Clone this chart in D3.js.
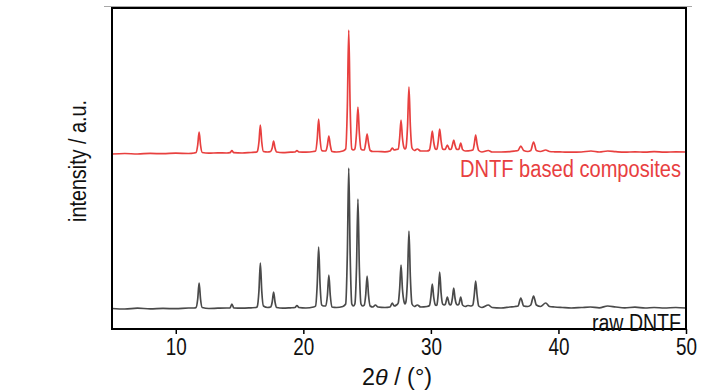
<!DOCTYPE html>
<html>
<head>
<meta charset="utf-8">
<script src="https://cdn.jsdelivr.net/npm/d3@7"></script>
<style>
  html, body { margin: 0; padding: 0; background: #fff; }
  svg { display: block; }
  text { font-family: 'Liberation Sans Narrow', 'Arial Narrow', 'Liberation Sans', Arial, sans-serif; }
</style>
</head>
<body>
<svg id="chart" width="728" height="390"></svg>
<script>
// ---- Data (2θ in degrees, intensity in a.u.) ----
const xTicks = [10, 20, 30, 40, 50];
const xDomain = [5, 50];
const yDomain = [0, 321];

const seriesNames = ["raw DNTF", "DNTF based composites"];

const rawDNTF = [
  [5,20.5],[6,20],[7,20.8],[8,20.2],[9,20.6],[10,20.3],[11,21],[11.45,21],
  [11.59,21.5],[11.72,30],[11.83,46],[11.94,30],[12.07,21.5],
  [12.6,20.5],[13.3,20.8],[14.0,21],
  [14.25,21],[14.4,25],[14.55,21],
  [15.2,20.8],[15.9,21.2],[16.3,21.5],
  [16.39,22.5],[16.52,38],[16.63,66],[16.74,38],[16.87,23],
  [17.2,21.5],
  [17.43,22],[17.56,27],[17.67,37],[17.78,27],[17.91,21.5],
  [18.4,20.8],[19.0,21.2],
  [19.35,21.5],[19.5,23.5],[19.65,21.5],
  [20.2,21],[20.8,22],
  [20.96,23],[21.09,45],[21.2,82],[21.31,45],[21.44,24],
  [21.6,23],
  [21.76,23],[21.89,34],[22.0,54],[22.11,34],[22.24,22],
  [22.6,21.5],[23.1,22.5],
  [23.32,25],[23.45,75],[23.56,161],[23.67,75],[23.8,25],
  [23.92,23],
  [24.04,25],[24.17,62],[24.28,130],[24.39,62],[24.52,25],
  [24.65,23],
  [24.78,24],[24.89,34],[25.0,53],[25.11,34],[25.24,23],
  [25.45,22],[25.65,24],[25.85,22],[26.4,21.5],
  [26.8,22],[26.97,26],[27.12,23],
  [27.3,24],
  [27.44,26],[27.55,40],[27.66,64],[27.77,40],[27.9,27],
  [27.97,25],
  [28.04,27],[28.17,52],[28.28,98],[28.39,52],[28.52,25],
  [28.7,22.5],[28.94,24],[29.2,22],[29.7,22.5],
  [29.89,23.5],[30.0,32],[30.11,45],[30.22,32],[30.35,24],
  [30.41,23.5],
  [30.47,24],[30.58,36],[30.69,57],[30.8,36],[30.92,25],
  [31.05,24],
  [31.14,25],[31.29,32],[31.44,25],
  [31.53,24],
  [31.6,25],[31.69,31],[31.79,41],[31.89,31],[32.0,25],
  [32.1,24],
  [32.2,25],[32.34,32],[32.48,24],
  [32.7,22.5],[32.9,23.5],[33.15,23],
  [33.29,24],[33.4,34],[33.51,48],[33.62,34],[33.75,23],
  [34.0,21.5],[34.5,24],[34.8,21.5],[35.5,21],[36.2,22],[36.6,22.5],
  [36.83,23],[37.05,31],[37.27,23],
  [37.6,22.5],
  [37.83,24],[38.05,33],[38.27,24],
  [38.6,22.5],[39.0,26],[39.3,22.5],[39.7,22],[40.3,21.5],[41,21],[41.8,21.5],
  [42.5,22],[43.2,21.2],[43.86,23],[44.5,22],[45.2,21.2],[46,21.8],[46.8,21],
  [47.5,21.5],[48.3,21],[49.2,21.5],[50,21]
];

const composites = [
  [5,175],[6,175.5],[7,175],[8,175.6],[9,175.3],[10,175.8],[11,175.5],[11.45,176],
  [11.59,176.5],[11.72,184],[11.83,197],[11.94,184],[12.07,176.5],
  [12.6,175.8],[13.3,176.2],[14.0,176],
  [14.25,176.3],[14.4,178.3],[14.55,176.3],
  [15.2,176],[15.9,176.5],[16.3,176.8],
  [16.39,177.5],[16.52,187],[16.63,204],[16.74,187],[16.87,177.5],
  [17.2,177],
  [17.43,177.5],[17.56,181],[17.67,188],[17.78,181],[17.91,177],
  [18.4,176.3],[19.0,176.8],
  [19.35,177],[19.5,178.5],[19.65,177],
  [20.2,176.8],[20.8,177.5],
  [20.96,178],[21.09,190],[21.2,210],[21.31,190],[21.44,178.5],
  [21.6,178],
  [21.76,178],[21.89,184],[22.0,193],[22.11,184],[22.24,177.5],
  [22.6,177],[23.1,178],
  [23.32,180],[23.45,222],[23.56,299],[23.67,222],[23.8,180],
  [23.92,179],
  [24.04,180],[24.17,196],[24.28,222],[24.39,196],[24.52,180],
  [24.65,179],
  [24.78,179],[24.89,186],[25.0,195],[25.11,186],[25.24,178.5],
  [25.45,177.5],[25.85,177.5],[26.4,177.2],
  [26.8,178],[26.97,181],[27.12,179],
  [27.3,179.5],
  [27.44,180],[27.55,191],[27.66,209],[27.77,191],[27.9,181],
  [27.97,180],
  [28.04,181],[28.17,203],[28.28,242],[28.39,203],[28.52,181],
  [28.7,178.5],[28.94,180],[29.2,178],[29.7,178],
  [29.89,179],[30.0,187],[30.11,198],[30.22,187],[30.35,180],
  [30.41,179.5],
  [30.47,180],[30.58,188],[30.69,200],[30.8,188],[30.92,180],
  [31.05,179.5],
  [31.14,180],[31.29,184],[31.44,180],
  [31.53,179.5],
  [31.6,180],[31.69,184],[31.79,189],[31.89,184],[32.0,180],
  [32.1,179.5],
  [32.2,180],[32.34,186],[32.48,179.5],
  [32.7,178],[33.15,178.5],
  [33.29,179],[33.4,185],[33.51,194],[33.62,185],[33.75,178.5],
  [34.0,177],[34.5,178.5],[34.8,177],[35.5,177],[36.2,177.3],[36.6,178],
  [36.83,178.5],[37.05,183],[37.27,178.5],
  [37.6,177.5],
  [37.83,178.5],[38.05,187],[38.27,178.5],
  [38.6,177.5],[39.0,179],[39.3,177.5],[39.7,177.2],[40.3,177],[41,176.8],[41.8,177],
  [42.55,178],[43.2,177],[43.86,178],[44.5,177.3],[45.2,176.8],[46,177.2],[46.8,176.8],
  [47.5,177.3],[48.3,176.8],[49.2,177.2],[50,177]
];

// ---- Layout ----
const svg = d3.select("#chart");
const mLeft = 112, mRight = 686, mTop = 8, mBottom = 329;

const x = d3.scaleLinear().domain(xDomain).range([mLeft, mRight]);
const y = d3.scaleLinear().domain(yDomain).range([mBottom, mTop]);

const colors = { raw: "#4a4a4a", comp: "#e8403f" };

// faint top rule (line above the frame in the original)
svg.append("line")
  .attr("x1", 104).attr("x2", 692).attr("y1", 6.5).attr("y2", 6.5)
  .attr("stroke", "#a8a8a8").attr("stroke-width", 1);

const g = svg.append("g");

const line = d3.line()
  .x(d => x(d[0]))
  .y(d => y(d[1]))
  .curve(d3.curveMonotoneX);

g.append("path").datum(rawDNTF)
  .attr("d", line).attr("fill", "none")
  .attr("stroke", colors.raw).attr("stroke-width", 1.7)
  .attr("stroke-linejoin", "round");

g.append("path").datum(composites)
  .attr("d", line).attr("fill", "none")
  .attr("stroke", colors.comp).attr("stroke-width", 1.7)
  .attr("stroke-linejoin", "round");

// frame
svg.append("rect")
  .attr("x", mLeft).attr("y", mTop)
  .attr("width", mRight - mLeft).attr("height", mBottom - mTop)
  .attr("fill", "none").attr("stroke", "#000").attr("stroke-width", 2);

// x axis
const xAxis = d3.axisBottom(x).tickValues(xTicks).tickSize(5).tickPadding(5)
  .tickFormat(d3.format("d"));
const ax = svg.append("g").attr("transform", `translate(0,${mBottom})`).call(xAxis);
ax.select(".domain").remove();
ax.selectAll(".tick line").attr("stroke", "#000").attr("stroke-width", 1.5);
ax.selectAll(".tick text")
  .attr("fill", "#111").style("font-size", "23px")
  .attr("textLength", 21).attr("lengthAdjust", "spacingAndGlyphs");

// axis titles
const xt = svg.append("text")
  .attr("x", 397).attr("y", 385)
  .attr("text-anchor", "middle")
  .attr("fill", "#111").style("font-size", "23px")
  .attr("textLength", 70).attr("lengthAdjust", "spacingAndGlyphs");
xt.append("tspan").text("2");
xt.append("tspan").attr("font-style", "italic").text("θ");
xt.append("tspan").text(" / (°)");

svg.append("text")
  .attr("transform", "translate(86,161) rotate(-90)")
  .attr("text-anchor", "middle")
  .attr("fill", "#111").style("font-size", "23px")
  .attr("textLength", 122).attr("lengthAdjust", "spacingAndGlyphs")
  .text("intensity / a.u.");

// series labels
svg.append("text")
  .attr("x", 681).attr("y", 177)
  .attr("text-anchor", "end")
  .attr("fill", colors.comp).style("font-size", "23px")
  .attr("textLength", 221).attr("lengthAdjust", "spacingAndGlyphs")
  .text(seriesNames[1]);

svg.append("text")
  .attr("x", 681).attr("y", 331)
  .attr("text-anchor", "end")
  .attr("fill", "#111").style("font-size", "23px")
  .attr("textLength", 89).attr("lengthAdjust", "spacingAndGlyphs")
  .text(seriesNames[0]);
</script>
</body>
</html>
